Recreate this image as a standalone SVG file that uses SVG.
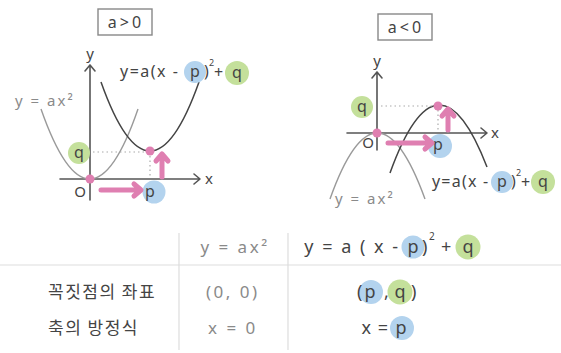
<svg xmlns="http://www.w3.org/2000/svg" width="561" height="353" viewBox="0 0 561 353">
<defs>
<style>
text{font-family:"Noto Sans","Liberation Sans",sans-serif;}
.dk{fill:#444;}
.gy{fill:#8a8a8a;}
.ax{stroke:#555;stroke-width:1.6;fill:none;stroke-linecap:round;stroke-linejoin:round;}
.cg{stroke:#9a9a9a;stroke-width:1.4;fill:none;}
.cd{stroke:#444;stroke-width:1.5;fill:none;}
.dot{stroke:#aaa;stroke-width:1.2;stroke-dasharray:1.5 3;fill:none;}
.pa{stroke:#df7fb1;stroke-width:5;fill:none;stroke-linecap:round;stroke-linejoin:round;}
.pd{fill:#df7fb1;}
.bl{fill:#b3d3ee;}
.gr{fill:#c4e09b;}
.box{fill:#fff;stroke:#888;stroke-width:1.4;}
.tl{stroke:#ddd;stroke-width:1.2;}
.ko{font-family:"Noto Sans CJK KR",sans-serif;font-size:17px;letter-spacing:1.5px;fill:#444;}
</style>
</defs>
<rect width="561" height="353" fill="#fff"/>

<!-- Left panel: a>0 -->
<g id="box-left">
<rect class="box" x="98" y="9" width="54" height="26"/>
<text class="dk" x="126" y="28" font-size="16" text-anchor="middle" letter-spacing="3">a&gt;0</text>
</g>
<g id="axes-left">
<path class="ax" d="M60,179 H200 M194,174 L200,179 L194,184"/>
<path class="ax" d="M90,200 V65 M85,71 L90,65 L95,71"/>
<text class="dk" x="90" y="59" font-size="15" text-anchor="middle">y</text>
<text class="dk" x="209" y="184" font-size="15" text-anchor="middle">x</text>
<text class="dk" x="80" y="197" font-size="15" text-anchor="middle">O</text>
</g>
<g id="curve-left-gray">
<path class="cg" d="M41,109 Q90,249 138,109"/>
<text class="gy" x="15" y="106" font-size="15" letter-spacing="2">y = ax²</text>
</g>
<g id="curve-left-dark">
<path class="cd" d="M101,82 Q150,220 199,82"/>
<circle class="bl" cx="195" cy="72" r="11"/>
<circle class="gr" cx="237" cy="73" r="12"/>
<text class="dk" x="120" y="77" font-size="16" letter-spacing="1.5">y=a(x -</text>
<text class="dk" x="195" y="77" font-size="16" text-anchor="middle">p</text>
<text class="dk" x="204" y="77" font-size="16">)</text>
<text class="dk" x="209" y="66" font-size="9">2</text>
<text class="dk" x="214" y="78" font-size="16">+</text>
<text class="dk" x="237" y="78" font-size="16" text-anchor="middle">q</text>
</g>
<g id="marks-left">
<path class="dot" d="M93,152 H146 M150,156 V177"/>
<circle class="gr" cx="79" cy="153" r="11"/>
<text class="dk" x="79" y="158" font-size="16" text-anchor="middle">q</text>
<circle class="pd" cx="90" cy="179" r="4.5"/>
<circle class="pd" cx="150" cy="151" r="4.5"/>
<circle class="bl" cx="154" cy="192" r="11.5"/>
<text class="dk" x="150" y="197" font-size="16" text-anchor="middle">p</text>
</g>
<g id="arrows-left">
<path class="pa" d="M101,190 H139 M134,184 L141,190 L134,196"/>
<path class="pa" d="M162,177 V155 M156,161 L162,154 L168,161"/>
</g>

<!-- Right panel: a<0 -->
<g id="box-right">
<rect class="box" x="378" y="14" width="54" height="26"/>
<text class="dk" x="406" y="33" font-size="16" text-anchor="middle" letter-spacing="3">a&lt;0</text>
</g>
<g id="axes-right">
<path class="ax" d="M347,133 H487 M481,128 L487,133 L481,138"/>
<path class="ax" d="M377,150 V72 M372,78 L377,72 L382,78"/>
<text class="dk" x="377" y="66" font-size="15" text-anchor="middle">y</text>
<text class="dk" x="495" y="138" font-size="15" text-anchor="middle">x</text>
<text class="dk" x="368" y="148" font-size="15" text-anchor="middle">O</text>
</g>
<g id="curve-right-gray">
<path class="cg" d="M330,199 Q377,67 425,199"/>
<text class="gy" x="335" y="204" font-size="15" letter-spacing="2">y = ax²</text>
</g>
<g id="curve-right-dark">
<path class="cd" d="M390,173 Q438,40 487,167"/>
<circle class="bl" cx="502" cy="182" r="11"/>
<circle class="gr" cx="543" cy="182" r="12"/>
<text class="dk" x="432" y="187" font-size="16" letter-spacing="1.2">y=a(x -</text>
<text class="dk" x="502" y="187" font-size="16" text-anchor="middle">p</text>
<text class="dk" x="511" y="187" font-size="16">)</text>
<text class="dk" x="516" y="176" font-size="9">2</text>
<text class="dk" x="521" y="188" font-size="16">+</text>
<text class="dk" x="543" y="187" font-size="16" text-anchor="middle">q</text>
</g>
<g id="marks-right">
<path class="dot" d="M381,106 H434 M438,110 V131"/>
<circle class="gr" cx="362" cy="107" r="11"/>
<text class="dk" x="362" y="112" font-size="16" text-anchor="middle">q</text>
<circle class="pd" cx="377" cy="133" r="4.5"/>
<circle class="pd" cx="438" cy="106" r="4.5"/>
<circle class="bl" cx="440" cy="146" r="12"/>
<text class="dk" x="438" y="150" font-size="16" text-anchor="middle">p</text>
</g>
<g id="arrows-right">
<path class="pa" d="M388,143 H430 M425,137 L432,143 L425,149"/>
<path class="pa" d="M448,130 V110 M442,116 L448,109 L454,116"/>
</g>

<!-- Table -->
<g id="table-lines">
<line class="tl" x1="0" y1="265" x2="561" y2="265"/>
<line class="tl" x1="179" y1="233" x2="179" y2="350"/>
<line class="tl" x1="288" y1="233" x2="288" y2="350"/>
</g>
<g id="table-header">
<text class="gy" x="235" y="253" font-size="17" text-anchor="middle" letter-spacing="2.5">y = ax²</text>
<circle class="bl" cx="413" cy="247" r="11.5"/>
<circle class="gr" cx="468" cy="247" r="12.5"/>
<text class="dk" x="400" y="253" font-size="18" letter-spacing="2" text-anchor="end">y = a ( x -</text>
<text class="dk" x="413" y="253" font-size="18" text-anchor="middle">p</text>
<text class="dk" x="422" y="253" font-size="18">)</text>
<text class="dk" x="429" y="240" font-size="10">2</text>
<text class="dk" x="441" y="253" font-size="18">+</text>
<text class="dk" x="468" y="253" font-size="18" text-anchor="middle">q</text>
</g>
<g id="row-vertex">
<text class="ko" x="48" y="298">꼭짓점의 좌표</text>
<text class="gy" x="206" y="298" font-size="17" letter-spacing="2.5">(0, 0)</text>
<circle class="bl" cx="371" cy="292" r="12"/>
<circle class="gr" cx="400" cy="292" r="12.5"/>
<text class="dk" x="357" y="298" font-size="18">(</text>
<text class="dk" x="370" y="298" font-size="18" text-anchor="middle">p</text>
<text class="dk" x="384" y="298" font-size="18">,</text>
<text class="dk" x="400" y="298" font-size="18" text-anchor="middle">q</text>
<text class="dk" x="411" y="298" font-size="18">)</text>
</g>
<g id="row-axis">
<text class="ko" x="48" y="334">축의 방정식</text>
<text class="gy" x="208" y="334" font-size="17" letter-spacing="2.5">x = 0</text>
<circle class="bl" cx="402" cy="328" r="12"/>
<text class="dk" x="389" y="334" font-size="18" text-anchor="end" letter-spacing="1">x =</text>
<text class="dk" x="401" y="334" font-size="18" text-anchor="middle">p</text>
</g>
</svg>
